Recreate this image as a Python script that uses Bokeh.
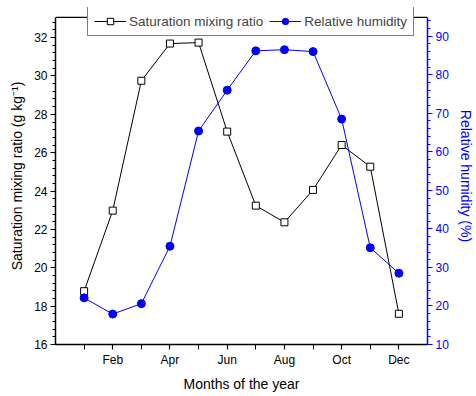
from bokeh.plotting import figure
from bokeh.models import (Range1d, LinearAxis, FixedTicker, SingleIntervalTicker,
                          Legend, LegendItem, Span)
from bokeh.embed import file_html
from bokeh.resources import INLINE

months = [1, 2, 3, 4, 5, 6, 7, 8, 9, 10, 11, 12]
month_labels = {2: "Feb", 4: "Apr", 6: "Jun", 8: "Aug", 10: "Oct", 12: "Dec"}
mixing_ratio = [18.78, 22.98, 29.75, 31.69, 31.74, 27.10, 23.24, 22.37, 24.06, 26.40, 25.27, 17.60]
rel_humidity = [22.1, 17.9, 20.6, 35.5, 65.4, 76.0, 86.2, 86.5, 86.0, 68.5, 35.1, 28.5]

FONT = "Liberation Sans"
BLUE = "#0000ff"

# axis box tops (the frame itself extends a little higher to leave room for the legend)
LEFT_TOP = 33.05
RIGHT_TOP = 94.85

p = figure(width=476, height=396, output_backend="svg", toolbar_location=None,
           x_range=Range1d(0, 13), y_range=Range1d(16, 33.57),
           min_border_left=55, min_border_right=42, min_border_top=7, min_border_bottom=52)
p.extra_y_ranges = {"rh": Range1d(10, 97.45)}
p.grid.visible = False
p.outline_line_color = None
p.background_fill_color = "white"

# x axis
xa = p.xaxis[0]
xa.ticker = FixedTicker(ticks=[2, 4, 6, 8, 10, 12], minor_ticks=[1, 3, 5, 7, 9, 11])
xa.major_label_overrides = month_labels
xa.axis_label = "Months of the year"

# left axis
ya = p.yaxis[0]
ya.ticker = SingleIntervalTicker(interval=2, num_minor_ticks=5)
ya.axis_label = "Saturation mixing ratio (g kg\u207b\u00b9)"
ya.bounds = (16, LEFT_TOP)

# right axis
ra = LinearAxis(y_range_name="rh", ticker=SingleIntervalTicker(interval=10, num_minor_ticks=5),
                axis_label="Relative humidity (%)", bounds=(10, RIGHT_TOP))
p.add_layout(ra, "right")

for ax, col in ((xa, "black"), (ya, "black"), (ra, BLUE)):
    ax.axis_line_color = col
    ax.axis_line_width = 1.5
    ax.major_tick_line_color = col
    ax.minor_tick_line_color = col
    ax.major_tick_line_width = 1.2
    ax.minor_tick_line_width = 1
    ax.major_tick_out = 5
    ax.major_tick_in = 0
    ax.minor_tick_out = 3
    ax.minor_tick_in = 0
    ax.major_label_text_font = FONT
    ax.major_label_text_font_size = "12px"
    ax.major_label_text_color = col
    ax.axis_label_text_font = FONT
    ax.axis_label_text_font_size = "14px"
    ax.axis_label_text_font_style = "normal"
    ax.axis_label_text_color = col
    ax.major_label_standoff = 3
    ax.axis_label_standoff = 6
xa.minor_tick_out = 5

# top border of the axis box
p.add_layout(Span(location=LEFT_TOP, dimension="width", line_color="black", line_width=1.2))

l1 = p.line(months, mixing_ratio, line_color="black", line_width=1)
s1 = p.scatter(months, mixing_ratio, marker="square", size=7, fill_color="white",
               line_color="black", line_width=1)
l2 = p.line(months, rel_humidity, line_color=BLUE, line_width=1, y_range_name="rh")
s2 = p.scatter(months, rel_humidity, marker="circle", size=8, fill_color=BLUE,
               line_color=BLUE, y_range_name="rh")

legend = Legend(items=[LegendItem(label="Saturation mixing ratio", renderers=[l1, s1]),
                       LegendItem(label="Relative humidity", renderers=[l2, s2])],
                orientation="horizontal", location=(32, 308),
                label_text_font=FONT, label_text_font_size="13.5px",
                glyph_width=32, glyph_height=16, label_height=16, label_standoff=3,
                padding=6, spacing=6, margin=0,
                border_line_color="black", border_line_width=1,
                background_fill_color="white", background_fill_alpha=1)
p.add_layout(legend, "center")

open("out.html", "w").write(file_html(p, INLINE))
